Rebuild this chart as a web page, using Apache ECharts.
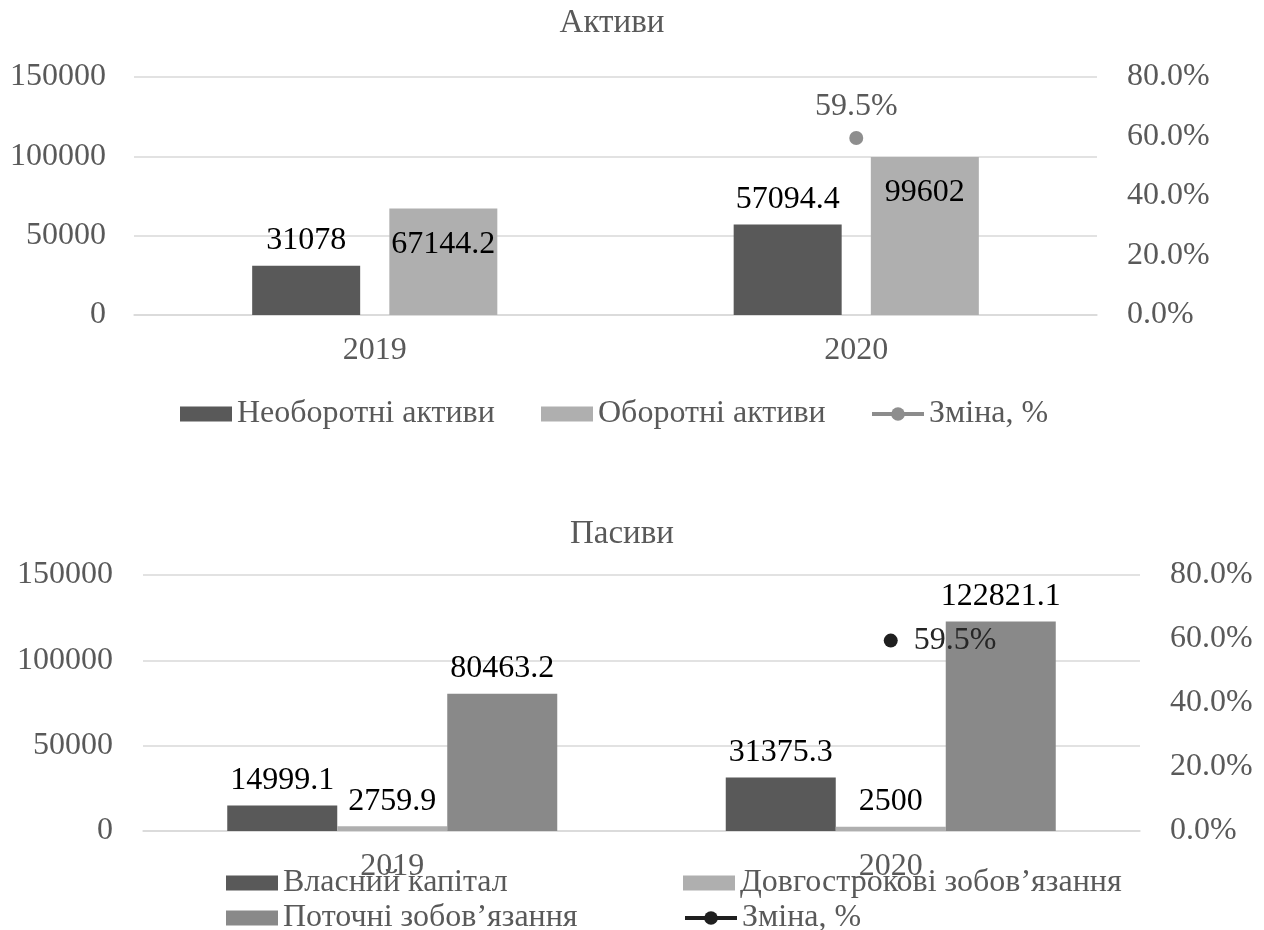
<!DOCTYPE html>
<html>
<head>
<meta charset="utf-8">
<script src="https://cdn.jsdelivr.net/npm/echarts@6/dist/echarts.min.js"></script>
<style>
  html, body { margin: 0; padding: 0; background: #ffffff; }
  #top, #bottom { position: absolute; left: 0; width: 1264px; height: 465px; }
  #top { top: 0; }
  #bottom { top: 465px; }
</style>
</head>
<body>
<div id="top"></div>
<div id="bottom"></div>
<script>
// ---- Data ----
const years = ['2019', '2020'];

const assetsTitle = 'Активи';
const nonCurrentAssetsName = 'Необоротні активи';
const nonCurrentAssets = [31078, 57094.4];
const currentAssetsName = 'Оборотні активи';
const currentAssets = [67144.2, 99602];
const changeName = 'Зміна, %';
const assetsChange = [null, 59.5];

const liabTitle = 'Пасиви';
const equityName = 'Власний капітал';
const equity = [14999.1, 31375.3];
const longTermName = 'Довгострокові зобов’язання';
const longTerm = [2759.9, 2500];
const currentLiabName = 'Поточні зобов’язання';
const currentLiab = [80463.2, 122821.1];
const liabChange = [null, 59.5];

const valueAxisMax = 150000;
const valueAxisInterval = 50000;
const pctAxisMax = 80;
const pctAxisInterval = 20;

// ---- Styles ----
const FONT = "'Liberation Serif', 'Times New Roman', serif";
const FS = 32;
const AXIS_GRAY = '#595959';
const GRID_COLOR = '#d9d9d9';

const txt = (color) => ({ fontFamily: FONT, fontSize: FS, color: color || AXIS_GRAY });
const numFmt = (p) => String(p.value);
const pctFmt = (p) => (p.value == null ? '' : Number(p.value).toFixed(1) + '%');

function axes(gridCfg, leftMargin, rightMargin) {
  return {
    grid: gridCfg,
    xAxis: {
      type: 'category',
      data: years,
      axisLine: { show: true, lineStyle: { color: GRID_COLOR, width: 1.5 } },
      axisTick: { show: false },
      axisLabel: Object.assign({ margin: 20 }, txt())
    },
    yAxis: [
      {
        type: 'value', min: 0, max: valueAxisMax, interval: valueAxisInterval,
        axisLine: { show: false }, axisTick: { show: false },
        axisLabel: Object.assign({ margin: leftMargin, formatter: (v) => String(v) }, txt()),
        splitLine: { show: true, lineStyle: { color: GRID_COLOR, width: 1.5 } }
      },
      {
        type: 'value', min: 0, max: pctAxisMax, interval: pctAxisInterval, position: 'right',
        axisLine: { show: false }, axisTick: { show: false },
        axisLabel: Object.assign({ margin: rightMargin, formatter: (v) => v.toFixed(1) + '%' }, txt()),
        splitLine: { show: false }
      }
    ]
  };
}

function legendItem(name, left, top, isBar, lineColor) {
  const cfg = {
    data: [isBar ? { name: name, icon: 'rect' } : { name: name }],
    left: left, top: top, padding: 0,
    itemWidth: 52, itemHeight: isBar ? 15 : 17,
    selectedMode: false,
    textStyle: txt()
  };
  if (!isBar) {
    cfg.lineStyle = { width: 4, color: lineColor };
  }
  return cfg;
}

// ---- Top chart: Активи ----
const chartTop = echarts.init(document.getElementById('top'), null, { renderer: 'canvas' });
const optTop = Object.assign({
  animation: false,
  backgroundColor: '#ffffff',
  title: {
    text: assetsTitle, left: 612, top: 7, textAlign: 'center', padding: 0,
    textStyle: { fontFamily: FONT, fontSize: 33, fontWeight: 'normal', color: AXIS_GRAY }
  },
  legend: [
    legendItem(nonCurrentAssetsName, 180, 398, true),
    legendItem(currentAssetsName, 541, 398, true),
    legendItem(changeName, 870, 398, false, '#8c8c8c')
  ],
  series: [
    {
      name: nonCurrentAssetsName, type: 'bar', data: nonCurrentAssets,
      barWidth: 108, barGap: '27%',
      itemStyle: { color: '#595959' },
      label: Object.assign({ show: true, position: 'top', distance: 9, formatter: numFmt }, txt('#000000'))
    },
    {
      name: currentAssetsName, type: 'bar', data: currentAssets,
      barWidth: 108, barGap: '27%',
      itemStyle: { color: '#afafaf' },
      label: Object.assign({ show: true, position: 'insideTop', distance: 20, formatter: numFmt }, txt('#000000'))
    },
    {
      name: changeName, type: 'line', yAxisIndex: 1, data: assetsChange,
      connectNulls: false,
      symbol: 'circle', symbolSize: 14,
      itemStyle: { color: '#8e8e8e' },
      lineStyle: { color: '#8e8e8e', width: 3 },
      label: Object.assign({ show: true, position: 'top', distance: 8, formatter: pctFmt }, txt(AXIS_GRAY))
    }
  ]
}, axes({ left: 134, right: 167, top: 77, bottom: 150 }, 28, 30));
chartTop.setOption(optTop);

// ---- Bottom chart: Пасиви ----
const chartBottom = echarts.init(document.getElementById('bottom'), null, { renderer: 'canvas' });
const optBottom = Object.assign({
  animation: false,
  backgroundColor: '#ffffff',
  title: {
    text: liabTitle, left: 622, top: 53, textAlign: 'center', padding: 0,
    textStyle: { fontFamily: FONT, fontSize: 33, fontWeight: 'normal', color: AXIS_GRAY }
  },
  legend: [
    legendItem(equityName, 226, 402, true),
    legendItem(longTermName, 683, 402, true),
    legendItem(currentLiabName, 226, 437, true),
    legendItem(changeName, 683, 437, false, '#1f1f1f')
  ],
  series: [
    {
      name: equityName, type: 'bar', data: equity,
      barWidth: 110, barGap: '0%',
      itemStyle: { color: '#595959' },
      label: Object.assign({ show: true, position: 'top', distance: 9, formatter: numFmt }, txt('#000000'))
    },
    {
      name: longTermName, type: 'bar', data: longTerm,
      barWidth: 110, barGap: '0%',
      itemStyle: { color: '#afafaf' },
      label: Object.assign({ show: true, position: 'top', distance: 9, formatter: numFmt }, txt('#000000'))
    },
    {
      name: currentLiabName, type: 'bar', data: currentLiab,
      barWidth: 110, barGap: '0%',
      itemStyle: { color: '#898989' },
      label: Object.assign({ show: true, position: 'top', distance: 9, formatter: numFmt }, txt('#000000'))
    },
    {
      name: changeName, type: 'line', yAxisIndex: 1, data: liabChange,
      connectNulls: false,
      symbol: 'circle', symbolSize: 14,
      itemStyle: { color: '#1f1f1f' },
      lineStyle: { color: '#1f1f1f', width: 3 },
      label: Object.assign({ show: true, position: 'right', distance: 16, formatter: pctFmt }, txt('#262626'))
    }
  ]
}, axes({ left: 143, right: 124, top: 110, bottom: 99 }, 30, 30));
chartBottom.setOption(optBottom);
</script>
</body>
</html>
